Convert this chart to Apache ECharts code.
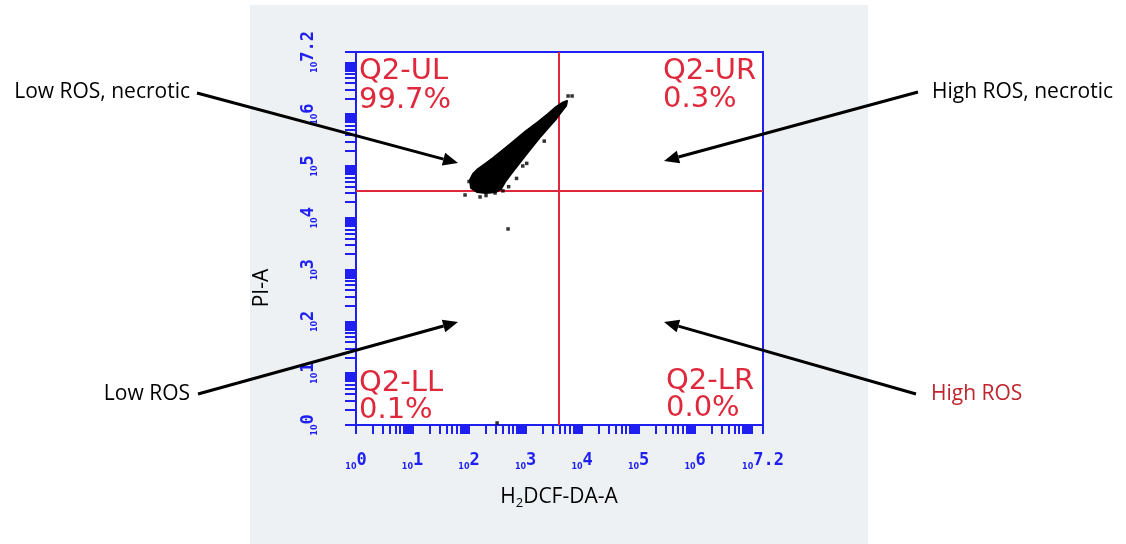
<!DOCTYPE html>
<html><head><meta charset="utf-8">
<script src="https://cdn.jsdelivr.net/npm/echarts@6/dist/echarts.min.js"></script>
<style>html,body{margin:0;padding:0;background:#fff}#c{width:1126px;height:544px}</style>
</head><body><div id="c"></div>
<script>
// ---- data (all in log10 decades) ----
const axisMin = 0;
const axisMax = 7.2;
const decadeValues = [0, 1, 2, 3, 4, 5, 6, 7.2];
const decadeLabels = ['0', '1', '2', '3', '4', '5', '6', '7.2'];
const subSteps = [1, 2, 3, 4, 5, 6, 7, 7.5, 8, 8.5, 9, 9.5];
const gateX = 3.575;
const gateY = 4.52;
const quadrantNames = ['Q2-UL', 'Q2-UR', 'Q2-LL', 'Q2-LR'];
const quadrantPercents = ['99.7%', '0.3%', '0.1%', '0.0%'];
// outline of the dense event cloud [log10 H2DCF-DA-A, log10 PI-A]
const cloudOutline = [
  [2.034, 4.575], [2.017, 4.730], [2.070, 4.846], [2.158, 4.942], [2.282, 5.039],
  [2.424, 5.154], [2.601, 5.309], [2.795, 5.483], [3.007, 5.676], [3.220, 5.849],
  [3.396, 6.004], [3.538, 6.139], [3.644, 6.216], [3.733, 6.255], [3.715, 6.158],
  [3.644, 6.062], [3.538, 5.907], [3.414, 5.753], [3.273, 5.579], [3.131, 5.386],
  [2.990, 5.193], [2.866, 5.019], [2.742, 4.846], [2.636, 4.691], [2.565, 4.556],
  [2.477, 4.498], [2.300, 4.479], [2.140, 4.498]
];
// isolated events around the cloud and elsewhere
const outlierEvents = [
  [2.106, 4.768], [2.071, 4.595], [1.929, 4.440], [2.195, 4.402], [2.460, 4.479],
  [2.700, 4.600], [2.840, 4.760], [3.020, 5.050], [3.823, 6.351], [3.752, 6.351],
  [2.690, 3.784], [2.496, 0.039], [2.300, 4.430], [2.000, 4.700], [2.600, 4.520],
  [3.330, 5.480], [2.950, 5.000]
];
const annotationTexts = ['Low ROS, necrotic', 'High ROS, necrotic', 'Low ROS', 'High ROS'];
const yAxisTitle = 'PI-A';

// ---- styling ----
const BLUE = '#1f1ff2';
const RED = '#e0283c';
const tickValues = [];
for (let d = 0; d <= 7; d++) {
  subSteps.forEach(k => {
    const v = d + Math.log10(k);
    if (v <= axisMax + 1e-9) tickValues.push(+v.toFixed(4));
  });
}
tickValues.push(axisMax);

function labelFmt(v) {
  const i = decadeValues.findIndex(d => Math.abs(d - v) < 1e-6);
  return '{b|10}{e|' + (i >= 0 ? decadeLabels[i] : '') + '}';
}
const labelRich = {
  b: { fontSize: 8, fontWeight: 'bold', color: BLUE, fontFamily: 'DejaVu Sans', padding: [9, 0, 0, 0] },
  e: { fontSize: 17, color: BLUE, fontFamily: 'DejaVu Sans Mono', fontWeight: 'bold', padding: [0, 0, 4, 0] }
};

function arrow(x1, y1, x2, y2) {
  const ang = Math.atan2(y2 - y1, x2 - x1);
  const L = 15, W = 6.5;
  const bx = x2 - L * Math.cos(ang), by = y2 - L * Math.sin(ang);
  const px = -Math.sin(ang), py = Math.cos(ang);
  return [
    { type: 'line', shape: { x1, y1, x2: bx, y2: by }, style: { stroke: '#000', lineWidth: 3 }, z: 100 },
    { type: 'polygon', shape: { points: [[x2, y2], [bx + px * W, by + py * W], [bx - px * W, by - py * W]] }, style: { fill: '#000' }, z: 100 }
  ];
}

const qFont = { fontSize: 29, fontFamily: 'DejaVu Sans', fill: RED };
const annFont = { fontSize: 21, fontFamily: 'Open Sans', fill: '#000' };

const graphic = [
  { type: 'rect', shape: { x: 250, y: 5, width: 618, height: 539 }, style: { fill: '#edf1f4' }, z: -10, silent: true },
  { type: 'text', x: 359, y: 57, style: Object.assign({ text: quadrantNames[0] + '\n' + quadrantPercents[0], lineHeight: 29 }, qFont), z: 50 },
  { type: 'text', x: 663, y: 57, style: Object.assign({ text: quadrantNames[1] + '\n' + quadrantPercents[1], lineHeight: 28 }, qFont), z: 50 },
  { type: 'text', x: 359, y: 370, style: Object.assign({ text: quadrantNames[2] + '\n' + quadrantPercents[2], lineHeight: 27 }, qFont), z: 50 },
  { type: 'text', x: 666, y: 368, style: Object.assign({ text: quadrantNames[3] + '\n' + quadrantPercents[3], lineHeight: 27 }, qFont), z: 50 },
  { type: 'text', x: 190, y: 92, style: Object.assign({ text: annotationTexts[0], align: 'right', verticalAlign: 'middle' }, annFont) },
  { type: 'text', x: 932, y: 92, style: Object.assign({ text: annotationTexts[1], align: 'left', verticalAlign: 'middle' }, annFont) },
  { type: 'text', x: 190, y: 394, style: Object.assign({ text: annotationTexts[2], align: 'right', verticalAlign: 'middle' }, annFont) },
  { type: 'text', x: 931, y: 394, style: Object.assign({ text: annotationTexts[3], align: 'left', verticalAlign: 'middle' }, annFont, { fill: '#c0252d' }) },
  { type: 'text', x: 559, y: 497, style: { text: '{n|H}{s|2}{n|DCF-DA-A}', align: 'center', verticalAlign: 'middle',
      rich: { n: { fontSize: 21, fontFamily: 'Open Sans', fill: '#000' }, s: { fontSize: 13, fontFamily: 'Open Sans', fill: '#000', padding: [13, 0, 0, 0] } } } },
  { type: 'text', x: 262, y: 288, rotation: Math.PI / 2, style: { text: yAxisTitle, align: 'center', verticalAlign: 'middle', fontSize: 21, fontFamily: 'Open Sans', fill: '#000' } }
].concat(
  arrow(197, 93, 458, 163),
  arrow(918, 92, 664, 161),
  arrow(198, 394, 458, 322),
  arrow(916, 394, 664, 322)
);

function axisCommon(isY) {
  return {
    type: 'value', min: axisMin, max: axisMax,
    splitLine: { show: false },
    axisLine: { show: true, lineStyle: { color: BLUE, width: 2 } },
    axisTick: { show: true, customValues: tickValues, length: isY ? 11 : 9, lineStyle: { color: BLUE, width: 2 } },
    axisLabel: {
      customValues: decadeValues, formatter: labelFmt, rich: labelRich,
      margin: isY ? 35 : 27, rotate: isY ? 90 : 0, color: BLUE
    }
  };
}

const chart = echarts.init(document.getElementById('c'), null, { renderer: 'canvas' });
chart.setOption({
  animation: false,
  backgroundColor: '#fff',
  grid: { left: 356, top: 52, width: 407, height: 373, show: true, backgroundColor: '#fff', borderColor: BLUE, borderWidth: 2, z: 0 },
  xAxis: axisCommon(false),
  yAxis: axisCommon(true),
  graphic: graphic,
  series: [
    {
      type: 'custom', coordinateSystem: 'cartesian2d', data: [0],
      renderItem: function (params, api) {
        return { type: 'polygon', shape: { points: cloudOutline.map(p => api.coord(p)) }, style: { fill: '#000', stroke: '#000', lineWidth: 2, lineJoin: 'round' } };
      },
      z: 5, silent: true
    },
    {
      type: 'scatter', data: outlierEvents, symbol: 'rect', symbolSize: 3.5,
      itemStyle: { color: '#000' }, z: 6, silent: true,
      markLine: {
        silent: true, symbol: 'none', label: { show: false },
        lineStyle: { color: RED, width: 2, type: 'solid' },
        data: [{ xAxis: gateX }, { yAxis: gateY }]
      }
    }
  ]
});
</script></body></html>
